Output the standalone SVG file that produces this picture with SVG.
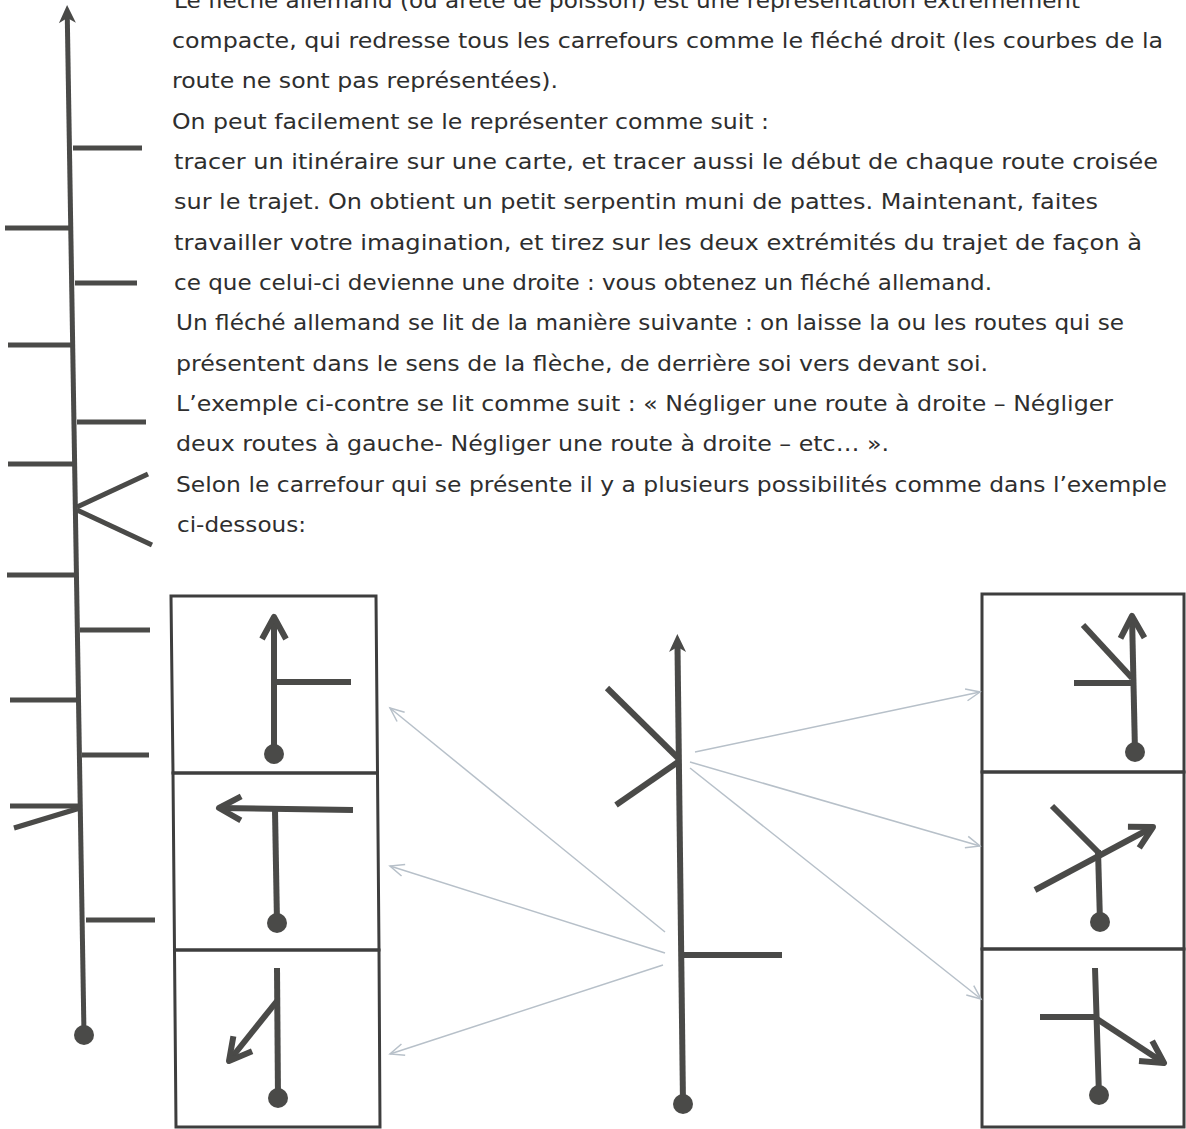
<svg xmlns="http://www.w3.org/2000/svg" width="1186" height="1129" viewBox="0 0 1186 1129">
<defs>
<marker id="headFill" markerUnits="userSpaceOnUse" viewBox="-20 -10 22 20" markerWidth="22" markerHeight="20" refX="-13" refY="0" orient="auto" overflow="visible">
<path d="M0,0 L-18,-8.5 L-13,0 L-18,8.5 Z" fill="#4a4a48"/>
</marker>
<marker id="chevron" markerUnits="userSpaceOnUse" viewBox="-30 -20 40 40" markerWidth="40" markerHeight="40" refX="0" refY="0" orient="auto" overflow="visible">
<path d="M-22,-12 L0,0 L-22,12" fill="none" stroke="#4a4a48" stroke-width="6" stroke-linejoin="round"/>
</marker>
<marker id="openHead" markerUnits="userSpaceOnUse" viewBox="-20 -10 24 20" markerWidth="24" markerHeight="20" refX="0" refY="0" orient="auto" overflow="visible">
<path d="M-14,-6 L0,0 L-14,6" fill="none" stroke="#b7c0c9" stroke-width="1.5"/>
</marker>
</defs>
<style>
.txt{font-family:"DejaVu Sans","Liberation Sans",sans-serif;font-size:22px;fill:#2e2e2e}
.road{stroke:#4a4a48;stroke-width:6;fill:none;stroke-linecap:butt}
.spine{stroke:#4a4a48;stroke-width:5;fill:none}
.tick{stroke:#4a4a48;stroke-width:5;fill:none}
.dot{fill:#4a4a48}
.box{fill:none;stroke:#3e3e3e;stroke-width:3}
.conn{stroke:#b7c0c9;stroke-width:1.5;fill:none}
</style>
<rect width="1186" height="1129" fill="#ffffff"/>

<g id="text">
<text class="txt" x="174" y="7.7" textLength="906" lengthAdjust="spacingAndGlyphs">Le fléché allemand (ou arête de poisson) est une représentation extrêmement</text>
<text class="txt" x="172" y="48" textLength="991" lengthAdjust="spacingAndGlyphs">compacte, qui redresse tous les carrefours comme le fléché droit (les courbes de la</text>
<text class="txt" x="172" y="88.3" textLength="386" lengthAdjust="spacingAndGlyphs">route ne sont pas représentées).</text>
<text class="txt" x="172" y="128.7" textLength="597" lengthAdjust="spacingAndGlyphs">On peut facilement se le représenter comme suit :</text>
<text class="txt" x="174" y="169" textLength="984" lengthAdjust="spacingAndGlyphs">tracer un itinéraire sur une carte, et tracer aussi le début de chaque route croisée</text>
<text class="txt" x="174" y="209.3" textLength="924" lengthAdjust="spacingAndGlyphs">sur le trajet. On obtient un petit serpentin muni de pattes. Maintenant, faites</text>
<text class="txt" x="174" y="249.7" textLength="968" lengthAdjust="spacingAndGlyphs">travailler votre imagination, et tirez sur les deux extrémités du trajet de façon à</text>
<text class="txt" x="174" y="290" textLength="818" lengthAdjust="spacingAndGlyphs">ce que celui-ci devienne une droite : vous obtenez un fléché allemand.</text>
<text class="txt" x="176" y="330.3" textLength="948" lengthAdjust="spacingAndGlyphs">Un fléché allemand se lit de la manière suivante : on laisse la ou les routes qui se</text>
<text class="txt" x="176" y="370.7" textLength="812" lengthAdjust="spacingAndGlyphs">présentent dans le sens de la flèche, de derrière soi vers devant soi.</text>
<text class="txt" x="176" y="411" textLength="937" lengthAdjust="spacingAndGlyphs">L’exemple ci-contre se lit comme suit : « Négliger une route à droite – Négliger</text>
<text class="txt" x="176" y="451.3" textLength="713" lengthAdjust="spacingAndGlyphs">deux routes à gauche- Négliger une route à droite – etc… ».</text>
<text class="txt" x="176" y="491.7" textLength="991" lengthAdjust="spacingAndGlyphs">Selon le carrefour qui se présente il y a plusieurs possibilités comme dans l’exemple</text>
<text class="txt" x="177" y="532" textLength="129" lengthAdjust="spacingAndGlyphs">ci-dessous:</text>
</g>

<g id="spine-left">
<path class="spine" d="M84,1035 L67.3,18" marker-end="url(#headFill)"/>
<line class="tick" x1="73" y1="148" x2="142" y2="148"/>
<line class="tick" x1="5" y1="228" x2="72" y2="228"/>
<line class="tick" x1="75" y1="283" x2="137" y2="283"/>
<line class="tick" x1="8" y1="345" x2="73" y2="345"/>
<line class="tick" x1="77" y1="422" x2="146" y2="422"/>
<line class="tick" x1="8" y1="464" x2="75" y2="464"/>
<line class="tick" x1="77" y1="507" x2="148" y2="474"/>
<line class="tick" x1="77" y1="510" x2="152" y2="545"/>
<line class="tick" x1="7" y1="575" x2="77" y2="575"/>
<line class="tick" x1="80" y1="630" x2="150" y2="630"/>
<line class="tick" x1="10" y1="700" x2="79" y2="700"/>
<line class="tick" x1="82" y1="755" x2="149" y2="755"/>
<line class="tick" x1="10" y1="806" x2="80" y2="806"/>
<line class="tick" x1="80" y1="808" x2="14" y2="828"/>
<line class="tick" x1="86" y1="920" x2="155" y2="920"/>
<circle class="dot" cx="84" cy="1035" r="10"/>
</g>

<g id="boxes-left">
<g id="box-l1">
<path class="box" d="M171,596 L376,596 L377.5,773 L173,773 Z"/>
<path class="road" d="M274,755 L274,617" marker-end="url(#chevron)"/>
<line class="road" x1="274" y1="682" x2="351" y2="682"/>
<circle class="dot" cx="274" cy="754" r="10"/>
</g>
<g id="box-l2">
<path class="box" d="M173,773 L377.5,773 L379,950 L174.5,950 Z"/>
<path class="road" d="M353,810 L219,808" marker-end="url(#chevron)"/>
<line class="road" x1="275" y1="810" x2="277" y2="923"/>
<circle class="dot" cx="277" cy="923" r="10"/>
</g>
<g id="box-l3">
<path class="box" d="M174.5,950 L379,950 L380,1127 L176,1127 Z"/>
<line class="road" x1="277" y1="968" x2="278" y2="1098"/>
<path class="road" d="M277,1001 L229,1061" marker-end="url(#chevron)"/>
<circle class="dot" cx="278" cy="1098" r="10"/>
</g>
</g>

<g id="center">
<path class="road" d="M683,1104 L677.5,647" marker-end="url(#headFill)"/>
<line class="road" x1="607" y1="688" x2="678" y2="758"/>
<line class="road" x1="678" y1="762" x2="616" y2="805"/>
<line class="road" x1="683" y1="955" x2="782" y2="955"/>
<circle class="dot" cx="683" cy="1104" r="10"/>
</g>

<g id="boxes-right">
<g id="box-r1">
<path class="box" d="M982,594 L1184,594 L1184,772 L982,772 Z"/>
<path class="road" d="M1135,752 L1132,616" marker-end="url(#chevron)"/>
<line class="road" x1="1083" y1="625" x2="1132" y2="678"/>
<line class="road" x1="1074" y1="683" x2="1133" y2="683"/>
<circle class="dot" cx="1135" cy="752" r="10"/>
</g>
<g id="box-r2">
<path class="box" d="M982,772 L1184,772 L1184,949 L982,949 Z"/>
<path class="road" d="M1035,890 L1153,827" marker-end="url(#chevron)"/>
<line class="road" x1="1052" y1="806" x2="1098" y2="852"/>
<line class="road" x1="1098" y1="850" x2="1100" y2="922"/>
<circle class="dot" cx="1100" cy="922" r="10"/>
</g>
<g id="box-r3">
<path class="box" d="M982,949 L1184,949 L1184,1127 L982,1127 Z"/>
<line class="road" x1="1095" y1="968" x2="1099" y2="1095"/>
<line class="road" x1="1040" y1="1017" x2="1097" y2="1017"/>
<path class="road" d="M1097,1019 L1164,1063" marker-end="url(#chevron)"/>
<circle class="dot" cx="1099" cy="1095" r="10"/>
</g>
</g>

<g id="connectors">
<path class="conn" d="M665,932 L390,708" marker-end="url(#openHead)"/>
<path class="conn" d="M665,953 L390,866" marker-end="url(#openHead)"/>
<path class="conn" d="M663,965 L390,1054" marker-end="url(#openHead)"/>
<path class="conn" d="M695,752 L980,692" marker-end="url(#openHead)"/>
<path class="conn" d="M690,762 L980,846" marker-end="url(#openHead)"/>
<path class="conn" d="M690,768 L981,999" marker-end="url(#openHead)"/>
</g>
</svg>
